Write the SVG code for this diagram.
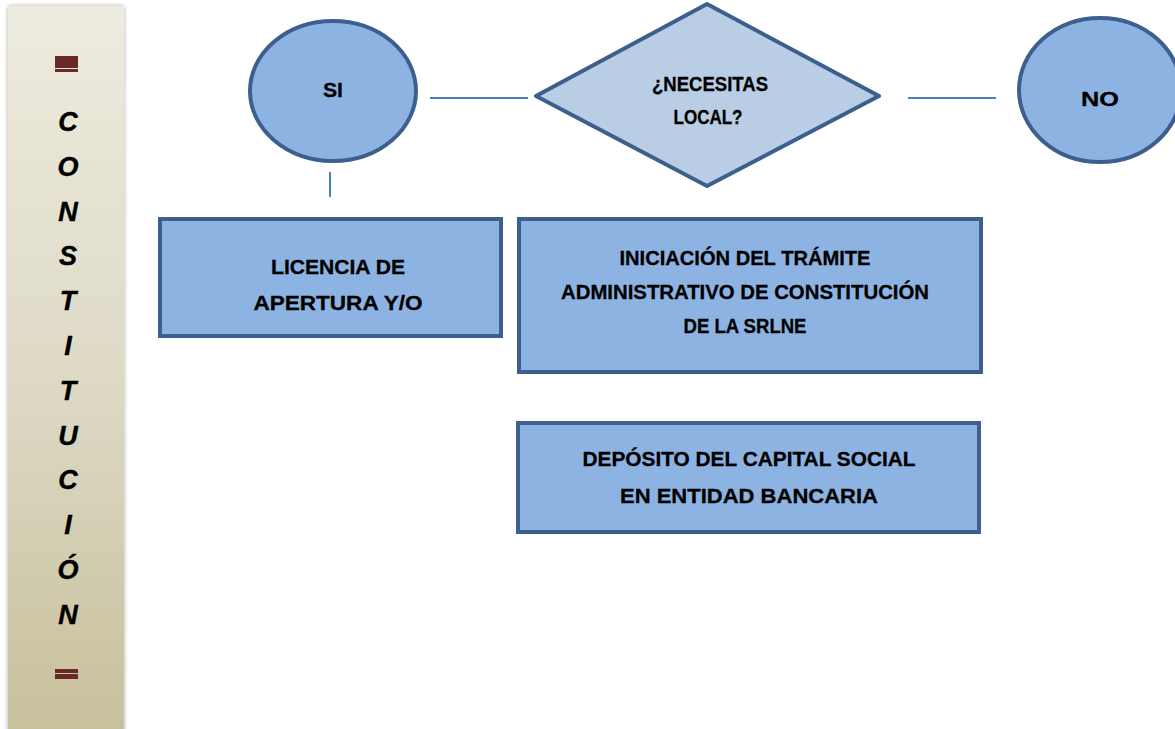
<svg xmlns="http://www.w3.org/2000/svg" width="1175" height="729" viewBox="0 0 1175 729">
<defs>
<linearGradient id="side" x1="0" y1="0" x2="0" y2="1">
<stop offset="0" stop-color="#eeebe0"/>
<stop offset="0.5" stop-color="#dedac6"/>
<stop offset="1" stop-color="#c7c09b"/>
</linearGradient>
<filter id="sh" x="-10%" y="-2%" width="120%" height="104%">
<feGaussianBlur in="SourceAlpha" stdDeviation="2"/>
<feOffset dx="0" dy="0" result="b"/>
<feComponentTransfer><feFuncA type="linear" slope="0.35"/></feComponentTransfer>
<feMerge><feMergeNode/><feMergeNode in="SourceGraphic"/></feMerge>
</filter>
</defs>
<style>
.node{fill:#8db3e2;stroke:#3c5f8d;stroke-width:4}
.dia{fill:#b9cde5;stroke:#3c5f8d;stroke-width:4;stroke-linejoin:round}
.t{font-family:"Liberation Sans",Arial,sans-serif;font-weight:bold;font-size:21px;fill:#000;text-anchor:middle;stroke:#000;stroke-width:0.3}
.s{font-family:"Liberation Sans",Arial,sans-serif;font-weight:bold;font-style:italic;font-size:27px;fill:#000;text-anchor:middle;stroke:#000;stroke-width:0.4}
.c{stroke:#4a7ebb;stroke-width:2;fill:none}
.r{fill:#6b2828}
</style>
<rect width="1175" height="729" fill="#ffffff"/>
<g id="sidebar">
<rect x="8" y="6" width="116" height="730" rx="3" fill="url(#side)" filter="url(#sh)"/>
<rect class="r" x="55" y="56" width="23" height="12"/>
<rect class="r" x="55" y="69" width="23" height="3"/>
<text class="s" x="68" y="131">C</text>
<text class="s" x="68" y="176">O</text>
<text class="s" x="68" y="221">N</text>
<text class="s" x="68" y="265">S</text>
<text class="s" x="68" y="310">T</text>
<text class="s" x="68" y="355">I</text>
<text class="s" x="68" y="400">T</text>
<text class="s" x="68" y="445">U</text>
<text class="s" x="68" y="489">C</text>
<text class="s" x="68" y="534">I</text>
<text class="s" x="68" y="579">Ó</text>
<text class="s" x="68" y="624">N</text>
<rect class="r" x="55" y="669" width="23" height="4"/>
<rect class="r" x="55" y="674" width="23" height="5"/>
</g>
<g id="connectors">
<line class="c" x1="430" y1="98" x2="528" y2="98"/>
<line class="c" x1="908" y1="98" x2="996" y2="98"/>
<line class="c" x1="330" y1="172" x2="330" y2="197"/>
</g>
<g id="si">
<ellipse class="node" cx="333" cy="91" rx="83" ry="70"/>
<text class="t" x="333" y="97" textLength="20" lengthAdjust="spacingAndGlyphs">SI</text>
</g>
<g id="decision">
<polygon class="dia" points="707,4 536,96 707,186 879,96"/>
<text class="t" x="710" y="91" textLength="116" lengthAdjust="spacingAndGlyphs">¿NECESITAS</text>
<text class="t" x="708" y="124" textLength="69" lengthAdjust="spacingAndGlyphs">LOCAL?</text>
</g>
<g id="no">
<ellipse class="node" cx="1100" cy="90" rx="81" ry="72"/>
<text class="t" x="1100" y="106" textLength="38" lengthAdjust="spacingAndGlyphs">NO</text>
</g>
<g id="licencia">
<rect class="node" x="160" y="219" width="341" height="117"/>
<text class="t" x="338" y="274" textLength="134" lengthAdjust="spacingAndGlyphs">LICENCIA DE</text>
<text class="t" x="338" y="310" textLength="169" lengthAdjust="spacingAndGlyphs">APERTURA Y/O</text>
</g>
<g id="iniciacion">
<rect class="node" x="519" y="219" width="462" height="153"/>
<text class="t" x="745" y="265" textLength="251" lengthAdjust="spacingAndGlyphs">INICIACIÓN DEL TRÁMITE</text>
<text class="t" x="745" y="299" textLength="368" lengthAdjust="spacingAndGlyphs">ADMINISTRATIVO DE CONSTITUCIÓN</text>
<text class="t" x="745" y="333" textLength="123" lengthAdjust="spacingAndGlyphs">DE LA SRLNE</text>
</g>
<g id="deposito">
<rect class="node" x="518" y="423" width="461" height="109"/>
<text class="t" x="749" y="466" textLength="333" lengthAdjust="spacingAndGlyphs">DEPÓSITO DEL CAPITAL SOCIAL</text>
<text class="t" x="749" y="503" textLength="258" lengthAdjust="spacingAndGlyphs">EN ENTIDAD BANCARIA</text>
</g>
</svg>
